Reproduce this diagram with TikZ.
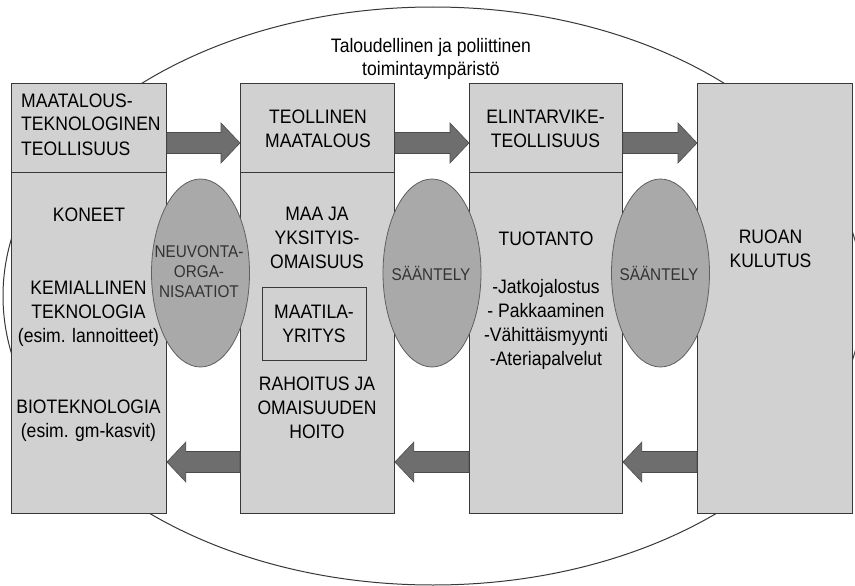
\documentclass[tikz,border=0pt]{standalone}
\usepackage{fontspec}
\setmainfont[FakeStretch=0.9]{Liberation Sans}
\usetikzlibrary{shapes.geometric,calc}
\definecolor{boxfill}{HTML}{D1D1D1}
\definecolor{ellfill}{HTML}{A9A9A9}
\definecolor{arrfill}{HTML}{6E6E6E}
\definecolor{bordercol}{HTML}{383838}
\definecolor{elltext}{HTML}{333333}
\newcommand\mainfs{\fontsize{19.5}{24}\selectfont}
\newcommand\ellfs{\fontsize{17}{20}\selectfont}
\newcommand\rightfat[3]{%
  \draw[fatarrow] (#2.west |- 0,#3) -- ++(-19,-20) coordinate (hb) -- ++(0,9.5)
    -- (#1.east |- 0,{#3-10.5}) -- (#1.east |- 0,{#3+10.5})
    -- (hb |- 0,{#3+10.5}) -- (hb |- 0,{#3+20}) -- cycle;}
\newcommand\leftfat[3]{%
  \draw[fatarrow] (#2.east |- 0,#3) -- ++(19,-20) coordinate (hb) -- ++(0,9.5)
    -- (#1.west |- 0,{#3-10.5}) -- (#1.west |- 0,{#3+10.5})
    -- (hb |- 0,{#3+10.5}) -- (hb |- 0,{#3+20}) -- cycle;}
\tikzset{
  box/.style={rectangle, draw=bordercol, fill=boxfill, line width=0.9pt, inner sep=0pt, anchor=north west},
  ell/.style={ellipse, draw=bordercol!80, fill=ellfill, line width=0.8pt, inner sep=0pt, minimum width=98pt, minimum height=188pt},
  txt/.style={font=\mainfs, align=center, anchor=base, inner sep=0pt},
  etxt/.style={font=\ellfs, text=elltext, align=center, anchor=base, inner sep=0pt},
  fatarrow/.style={fill=arrfill, draw=bordercol!90, line width=0.6pt, line join=miter},
}
\begin{document}
\begin{tikzpicture}[x=1pt,y=-1pt]
\useasboundingbox (0,0) rectangle (855,586);
\fill[white] (0,0) rectangle (855,586);
% environment ellipse
\node[ellipse, draw=bordercol, line width=1pt, inner sep=0pt, minimum width=860pt, minimum height=578pt] (env) at (433,296) {};
% (multi-line nodes: base anchor = baseline of last line)
\node[txt] (ttitle) at (431,76) {Taloudellinen ja poliittinen\\toimintaympäristö};
% columns
\node[box, minimum width=155pt, minimum height=89pt] (t1) at (11,83) {};
\node[box, minimum width=155pt, minimum height=341pt] (l1) at (11,172) {};
\node[box, minimum width=154pt, minimum height=89pt] (t2) at (240,83) {};
\node[box, minimum width=154pt, minimum height=341pt] (l2) at (240,172) {};
\node[box, minimum width=153pt, minimum height=89pt] (t3) at (469,83) {};
\node[box, minimum width=153pt, minimum height=341pt] (l3) at (469,172) {};
\node[box, minimum width=155pt, minimum height=430pt] (c4) at (697,83) {};
\node[box, fill=none, minimum width=104pt, minimum height=73pt] (farm) at (262,287) {};
% arrows
\rightfat{t1}{t2}{143}
\rightfat{t2}{t3}{143}
\rightfat{t3}{c4}{143}
\leftfat{l2}{l1}{462}
\leftfat{l3}{l2}{462}
\leftfat{c4}{l3}{462}
% small ellipses
\node[ell] (e1) at (200.5,273) {};
\node[ell] (e2) at (432,273) {};
\node[ell] (e3) at (660.5,273) {};
\node[etxt] (te1) at (199,297) {NEUVONTA-\\ORGA-\\NISAATIOT};
\node[etxt] (te2) at (431,280) {SÄÄNTELY};
\node[etxt] (te3) at (659,280) {SÄÄNTELY};
% texts
\node[txt, align=left, anchor=base west] (tt1) at (21,155) {MAATALOUS-\\TEKNOLOGINEN\\TEOLLISUUS};
\node[txt] (tt2) at (318,147) {TEOLLINEN\\MAATALOUS};
\node[txt] (tt3) at (545.5,147) {ELINTARVIKE-\\TEOLLISUUS};
\node[txt] (tkon) at (89,221) {KONEET};
\node[txt] (tkem) at (88.5,342) {KEMIALLINEN\\TEKNOLOGIA\\(esim. lannoitteet)};
\node[txt] (tbio) at (88.5,437) {BIOTEKNOLOGIA\\(esim. gm-kasvit)};
\node[txt] (tmaa) at (317,268) {MAA JA\\YKSITYIS-\\OMAISUUS};
\node[txt] (tfarm) at (314,342) {MAATILA-\\YRITYS};
\node[txt] (trah) at (317,438) {RAHOITUS JA\\OMAISUUDEN\\HOITO};
\node[txt] (ttuo) at (546,245) {TUOTANTO};
\node[txt] (tlist) at (546,365) {-Jatkojalostus\\- Pakkaaminen\\-Vähittäismyynti\\-Ateriapalvelut};
\node[txt] (truo) at (770.5,267) {RUOAN\\KULUTUS};
\end{tikzpicture}
\end{document}
